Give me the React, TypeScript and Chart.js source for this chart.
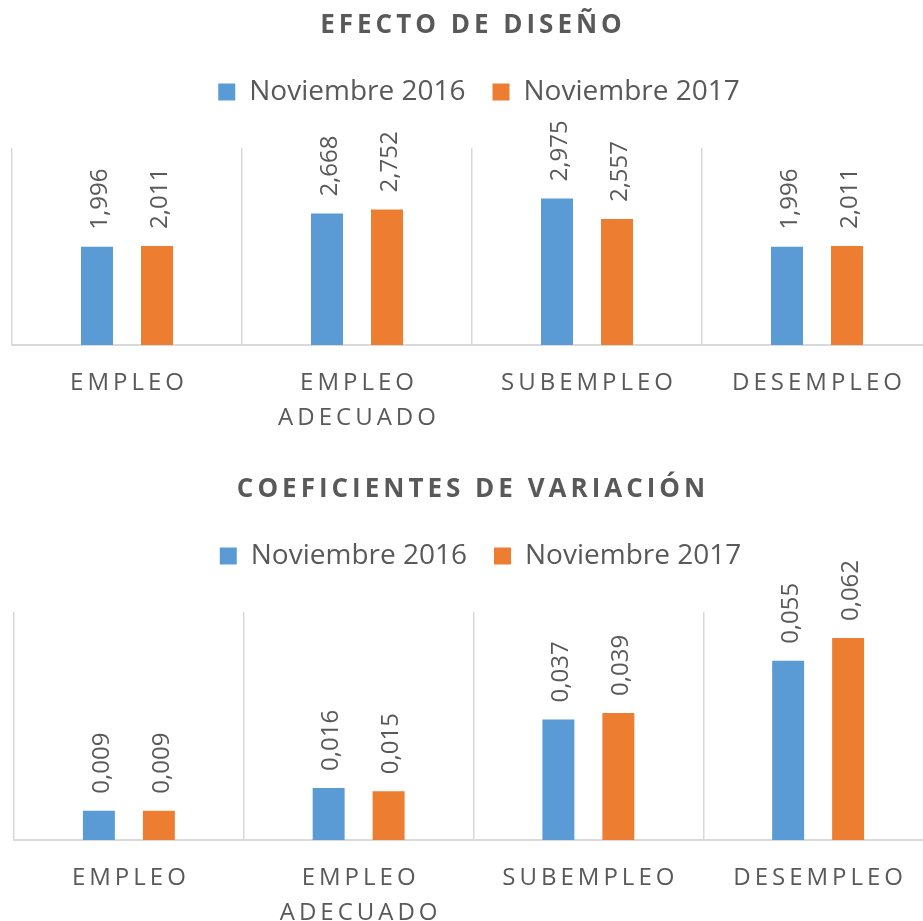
import React, { useEffect, useRef } from "react";
import { Chart, registerables } from "chart.js";

Chart.register(...registerables);

const categories: string[][] = [["EMPLEO"], ["EMPLEO", "ADECUADO"], ["SUBEMPLEO"], ["DESEMPLEO"]];
const seriesNames = ["Noviembre 2016", "Noviembre 2017"];
const seriesColors = ["#5b9bd5", "#ed7d31"];

const designTitle = "EFECTO DE DISEÑO";
const design2016 = [1.996, 2.668, 2.975, 1.996];
const design2017 = [2.011, 2.752, 2.557, 2.011];
const designMax = 4;

const cvTitle = "COEFICIENTES DE VARIACIÓN";
const cv2016 = [0.009, 0.016, 0.037, 0.055];
const cv2017 = [0.009, 0.015, 0.039, 0.062];
const cvMax = 0.07;

const TEXT = "#595959";
const FONT = "'Open Sans', sans-serif";

const fmt = (v: number) => v.toFixed(3).replace(".", ",");

const textPlugin = {
  id: "customText",
  beforeLayout(chart: any) {
    const lg = chart.legend;
    if (lg && !lg._patched) {
      const origFit = lg.fit;
      const origDraw = lg.draw;
      lg.fit = function () {
        origFit.call(this);
        this.height += chart.options.plugins.customText.legendExtra || 0;
      };
      lg.draw = function () {
        const c = this.ctx;
        c.save();
        c.translate(chart.options.plugins.customText.legendShift || 0, 0);
        origDraw.call(this);
        c.restore();
      };
      lg._patched = true;
    }
  },
  afterDraw(chart: any) {
    const o = chart.options.plugins.customText;
    const ctx = chart.ctx as CanvasRenderingContext2D;
    const area = chart.chartArea;
    ctx.save();
    ctx.fillStyle = TEXT;
    // title
    ctx.font = `bold ${o.titleSize}px ${FONT}`;
    (ctx as any).letterSpacing = `${o.titleSpacing}px`;
    ctx.textAlign = "center";
    ctx.textBaseline = "middle";
    ctx.fillText(o.title, o.titleX + o.titleSpacing / 2, o.titleY);

    // category labels
    const xs = chart.scales.x;
    ctx.font = `${o.catSize}px ${FONT}`;
    (ctx as any).letterSpacing = `${o.catSpacing}px`;
    categories.forEach((lines, i) => {
      const x = xs.getPixelForValue(i);
      lines.forEach((ln, j) => {
        ctx.fillText(ln, x + o.catSpacing / 2, area.bottom + o.catOffset + j * o.catLine);
      });
    });

    // data labels
    (ctx as any).letterSpacing = "0px";
    ctx.font = `${o.valSize}px ${FONT}`;
    ctx.textAlign = "left";
    chart.data.datasets.forEach((ds: any, di: number) => {
      const meta = chart.getDatasetMeta(di);
      meta.data.forEach((bar: any, i: number) => {
        ctx.save();
        ctx.translate(bar.x + o.valDx, bar.y - o.valGap);
        ctx.rotate(-Math.PI / 2);
        ctx.fillText(fmt(ds.data[i]), 0, 0);
        ctx.restore();
      });
    });
    ctx.restore();
  },
};

function makeConfig(title: string, a: number[], b: number[], max: number, pad: any, extra: any) {
  return {
    type: "bar" as const,
    data: {
      labels: categories.map((c) => c.join(" ")),
      datasets: [
        { label: seriesNames[0], data: a, backgroundColor: seriesColors[0], borderWidth: 0 },
        { label: seriesNames[1], data: b, backgroundColor: seriesColors[1], borderWidth: 0 },
      ],
    },
    options: {
      responsive: false,
      animation: false as const,
      devicePixelRatio: 1,
      layout: { padding: pad },
      datasets: { bar: { categoryPercentage: 0.522, barPercentage: 0.533 } },
      scales: {
        x: {
          grid: { color: "#d9d9d9", lineWidth: 1.5, drawTicks: false, offset: true },
          border: { color: "#d9d9d9", width: 2 },
          ticks: { display: false },
        },
        y: { display: false, min: 0, max, grid: { display: false } },
      },
      plugins: {
        title: { display: false },
        tooltip: { enabled: false },
        legend: {
          display: true,
          position: "top" as const,
          labels: {
            color: TEXT,
            font: { size: 28, family: FONT },
            boxWidth: 17,
            boxHeight: 17,
            padding: 27,
          },
        },
        customText: {
          title,
          titleSize: 26,
          titleSpacing: 4,
          titleX: 471,
          titleY: 26,
          catSize: 24,
          catSpacing: 4,
          catOffset: 38,
          catLine: 35,
          valSize: 24,
          valDx: 3,
          valGap: 17,
          legendShift: 7,
          ...extra,
        },
      },
    },
    plugins: [textPlugin],
  };
}

export default function App() {
  const topRef = useRef<HTMLCanvasElement>(null);
  const botRef = useRef<HTMLCanvasElement>(null);
  useEffect(() => {
    const c1 = new Chart(
      topRef.current!,
      makeConfig(designTitle, design2016, design2017, designMax, { left: 12, right: 8, top: 51, bottom: 119 }, { legendExtra: 32 }) as any
    );
    const c2 = new Chart(
      botRef.current!,
      makeConfig(cvTitle, cv2016, cv2017, cvMax, { left: 14, right: 7, top: 51, bottom: 104 }, { legendExtra: 32 }) as any
    );
    return () => {
      c1.destroy();
      c2.destroy();
    };
  }, []);
  return (
    <div style={{ position: "absolute", left: 0, top: 0, width: 923, height: 921, overflow: "hidden", background: "#fff" }}>
      <canvas ref={topRef} width={940} height={464} style={{ position: "absolute", left: 0, top: 0 }} />
      <canvas ref={botRef} width={940} height={480} style={{ position: "absolute", left: 0, top: 464 }} />
    </div>
  );
}
